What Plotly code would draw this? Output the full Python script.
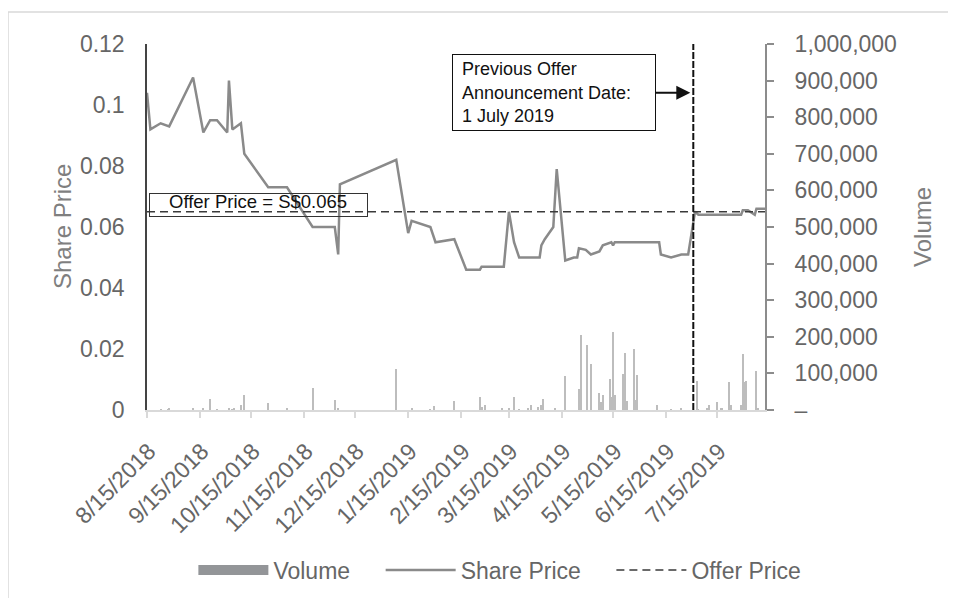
import plotly.graph_objects as go

# ---------------- data ----------------
price_dates = [
    "2018-08-15", "2018-08-17", "2018-08-23", "2018-08-28", "2018-09-11", "2018-09-17",
    "2018-09-21", "2018-09-25", "2018-10-01", "2018-10-02", "2018-10-04", "2018-10-09",
    "2018-10-11", "2018-10-25", "2018-11-05", "2018-11-20", "2018-12-03", "2018-12-05",
    "2018-12-06", "2019-01-08", "2019-01-15", "2019-01-17", "2019-01-28", "2019-01-31",
    "2019-02-11", "2019-02-18", "2019-02-26", "2019-02-27", "2019-03-12", "2019-03-15",
    "2019-03-18", "2019-03-21", "2019-04-02", "2019-04-03", "2019-04-05", "2019-04-10",
    "2019-04-12", "2019-04-17", "2019-04-22", "2019-04-24", "2019-04-25", "2019-04-29",
    "2019-05-02", "2019-05-07", "2019-05-09", "2019-05-14", "2019-05-15", "2019-05-16",
    "2019-06-11", "2019-06-12", "2019-06-18", "2019-06-24", "2019-06-28", "2019-07-02",
    "2019-07-04", "2019-07-29", "2019-07-30", "2019-08-02", "2019-08-06", "2019-08-07",
    "2019-08-12",
]
share_price = [
    0.104, 0.092, 0.094, 0.093, 0.109, 0.091,
    0.095, 0.095, 0.091, 0.108, 0.092, 0.094,
    0.084, 0.073, 0.073, 0.060, 0.060, 0.051,
    0.074, 0.082, 0.058, 0.062, 0.060, 0.055,
    0.056, 0.046, 0.046, 0.047, 0.047, 0.065,
    0.055, 0.050, 0.050, 0.054, 0.056, 0.060,
    0.079, 0.049, 0.050, 0.050, 0.053, 0.0525,
    0.051, 0.052, 0.054, 0.055, 0.054, 0.055,
    0.055, 0.051, 0.050, 0.051, 0.051, 0.065,
    0.064, 0.064, 0.0655, 0.0655, 0.064, 0.066,
    0.066,
]

volume_dates = [
    "2018-08-23", "2018-08-27", "2018-08-28", "2018-09-11", "2018-09-17", "2018-09-21",
    "2018-09-25", "2018-10-02", "2018-10-04", "2018-10-05", "2018-10-09", "2018-10-11",
    "2018-10-25", "2018-11-05", "2018-11-20", "2018-12-03", "2018-12-05", "2019-01-08",
    "2019-01-17", "2019-01-28", "2019-01-30", "2019-02-11", "2019-02-26", "2019-02-27",
    "2019-03-01", "2019-03-11", "2019-03-15", "2019-03-18", "2019-03-21", "2019-03-26",
    "2019-03-28", "2019-04-01", "2019-04-03", "2019-04-04", "2019-04-11", "2019-04-17",
    "2019-04-25", "2019-04-26", "2019-04-30", "2019-05-02", "2019-05-07", "2019-05-08",
    "2019-05-09", "2019-05-13", "2019-05-14", "2019-05-15", "2019-05-16", "2019-05-21",
    "2019-05-22", "2019-05-23", "2019-05-27", "2019-05-28", "2019-05-29", "2019-06-10",
    "2019-06-18", "2019-06-24", "2019-07-03", "2019-07-04", "2019-07-09", "2019-07-10",
    "2019-07-15", "2019-07-17", "2019-07-18", "2019-07-22", "2019-07-23", "2019-07-29",
    "2019-07-30", "2019-07-31", "2019-08-01", "2019-08-07", "2019-08-08",
]
volume = [
    2000, 2000, 3000, 5000, 5000, 30000,
    2000, 3000, 2000, 4000, 14000, 41000,
    20000, 6000, 59000, 27000, 5000, 111000,
    5000, 2000, 11000, 25000, 36000, 9000,
    14000, 5000, 3000, 35000, 2000, 3000,
    14000, 7000, 14000, 31000, 5000, 93000,
    57000, 206000, 178000, 126000, 46000, 23000,
    40000, 86000, 35000, 212000, 41000, 98000,
    157000, 25000, 166000, 27000, 96000, 14000,
    2000, 5000, 79000, 2000, 5000, 14000,
    23000, 5000, 4000, 77000, 13000, 14000,
    153000, 76000, 79000, 107000, 3000,
]

offer_dates = ["2018-08-15", "2019-08-12"]
offer_price = [0.065, 0.065]

x_tick_vals = ["2018-08-15", "2018-09-15", "2018-10-15", "2018-11-15", "2018-12-15",
               "2019-01-15", "2019-02-15", "2019-03-15", "2019-04-15", "2019-05-15",
               "2019-06-15", "2019-07-15"]
x_tick_text = ["8/15/2018", "9/15/2018", "10/15/2018", "11/15/2018", "12/15/2018",
               "1/15/2019", "2/15/2019", "3/15/2019", "4/15/2019", "5/15/2019",
               "6/15/2019", "7/15/2019"]
price_ticks = [0, 0.02, 0.04, 0.06, 0.08, 0.1, 0.12]
price_tick_text = ["0", "0.02", "0.04", "0.06", "0.08", "0.1", "0.12"]
volume_ticks = [0, 100000, 200000, 300000, 400000, 500000, 600000, 700000, 800000, 900000, 1000000]
volume_tick_text = ["–"] + [f"{v:,}" for v in volume_ticks[1:]]

announcement_date = "2019-07-01"

FONT = "Liberation Sans, Arial, Helvetica, sans-serif"
TXT = "#666666"
NB = "\u00a0"

fig = go.Figure()

fig.add_trace(go.Bar(
    x=volume_dates, y=volume, name="Volume", yaxis="y2",
    marker=dict(color="#bdbdbd", line=dict(width=0)),
    width=86400000 * 0.55, showlegend=False,
))
# legend entry for the volume bars (wide swatch, as in the original)
fig.add_trace(go.Scatter(
    x=[None], y=[None], name="Volume" + NB * 4, mode="lines",
    line=dict(color="#939598", width=14), hoverinfo="skip",
))
fig.add_trace(go.Scatter(
    x=price_dates, y=share_price, name="Share Price" + NB * 4, mode="lines",
    line=dict(color="#8a8a8a", width=2.5),
))
fig.add_trace(go.Scatter(
    x=offer_dates, y=offer_price, name="Offer Price", mode="lines",
    line=dict(color="#3a3a3a", width=1.5, dash="8px,5px"),
))

fig.add_shape(type="line", xref="x", yref="paper",
              x0=announcement_date, x1=announcement_date, y0=0, y1=1,
              line=dict(color="#111111", width=2, dash="7px,2px"))

# outer chart-area frame
fig.add_shape(type="rect", xref="paper", yref="paper",
              x0=-0.2249, x1=1.33, y0=-0.55, y1=1.0874,
              line=dict(color="#d9d9d9", width=1.5), layer="below")

# "Offer Price" label: bordered box, with the text sitting a little above centre
fig.add_annotation(
    xref="paper", yref="y", x=0.1804, y=0.0672, xanchor="center", yanchor="middle",
    text=NB, showarrow=False,
    font=dict(family=FONT, size=18.5, color="#111111"),
    bordercolor="#333333", borderwidth=1, borderpad=1,
    width=215, height=20, bgcolor="rgba(255,255,255,0)",
)
fig.add_annotation(
    xref="paper", yref="y", x=0.1804, y=0.0672, xanchor="center", yanchor="middle",
    text="Offer Price = S$0.065", showarrow=False, yshift=4,
    font=dict(family=FONT, size=18.5, color="#111111"),
)
fig.add_annotation(
    x=announcement_date, y=0.104, xref="x", yref="y",
    text=NB + "Previous Offer<br>" + NB + "Announcement Date:<br>" + NB + "1 July 2019",
    showarrow=True, ax=-139, ay=0, axref="pixel", ayref="pixel",
    arrowhead=2, arrowsize=1.4, arrowwidth=2, arrowcolor="#111111", standoff=3,
    align="left", font=dict(family=FONT, size=18, color="#111111"),
    bordercolor="#111111", borderwidth=1, borderpad=4, bgcolor="white",
    width=194, height=67,
)

fig.add_annotation(xref="paper", yref="paper", x=-0.1375, y=0.5, textangle=-90,
                   xanchor="center", yanchor="middle",
                   text="Share Price", showarrow=False,
                   font=dict(family=FONT, size=24, color="#7f7f7f"))
fig.add_annotation(xref="paper", yref="paper", x=1.254, y=0.5, textangle=-90,
                   xanchor="center", yanchor="middle",
                   text="Volume", showarrow=False,
                   font=dict(family=FONT, size=24, color="#7f7f7f"))

# the page body adds an 8px offset; margins compensate so the plot area sits at
# x 147..765, y 44..410 in the 956x598 window
fig.update_layout(
    width=956, height=598,
    margin=dict(l=139, r=199, t=36, b=196, autoexpand=False),
    paper_bgcolor="white", plot_bgcolor="white",
    font=dict(family=FONT, color=TXT),
    bargap=0,
    showlegend=True,
    legend=dict(orientation="h", x=0.571, xanchor="center", y=-0.437, yanchor="middle",
                font=dict(family=FONT, size=23, color=TXT), itemwidth=70,
                bgcolor="rgba(0,0,0,0)", traceorder="normal"),
    xaxis=dict(
        type="date", range=["2018-08-15", "2019-08-12"],
        tickvals=x_tick_vals, ticktext=x_tick_text, tickangle=-45,
        tickfont=dict(family=FONT, size=23, color=TXT),
        showline=True, linecolor="#d9d9d9", linewidth=1.5,
        ticks="outside", ticklen=6, tickcolor="#d9d9d9", tickwidth=1.5,
        showgrid=False, zeroline=False, ticklabelstandoff=11, ticklabelshift=2,
    ),
    yaxis=dict(
        range=[0, 0.12], tickvals=price_ticks, ticktext=price_tick_text,
        tickfont=dict(family=FONT, size=23, color=TXT),
        showline=True, linecolor="#444444", linewidth=1.5,
        ticks="", showgrid=False, zeroline=False, ticklabelstandoff=16,
    ),
    yaxis2=dict(
        range=[0, 1000000], tickvals=volume_ticks, ticktext=volume_tick_text,
        overlaying="y", side="right", anchor="x",
        tickfont=dict(family=FONT, size=23, color=TXT),
        showline=True, linecolor="#8c8c8c", linewidth=2,
        ticks="outside", ticklen=7, tickcolor="#8c8c8c", tickwidth=1.5,
        showgrid=False, zeroline=False, ticklabelstandoff=16,
    ),
)

fig.write_html("out.html")
